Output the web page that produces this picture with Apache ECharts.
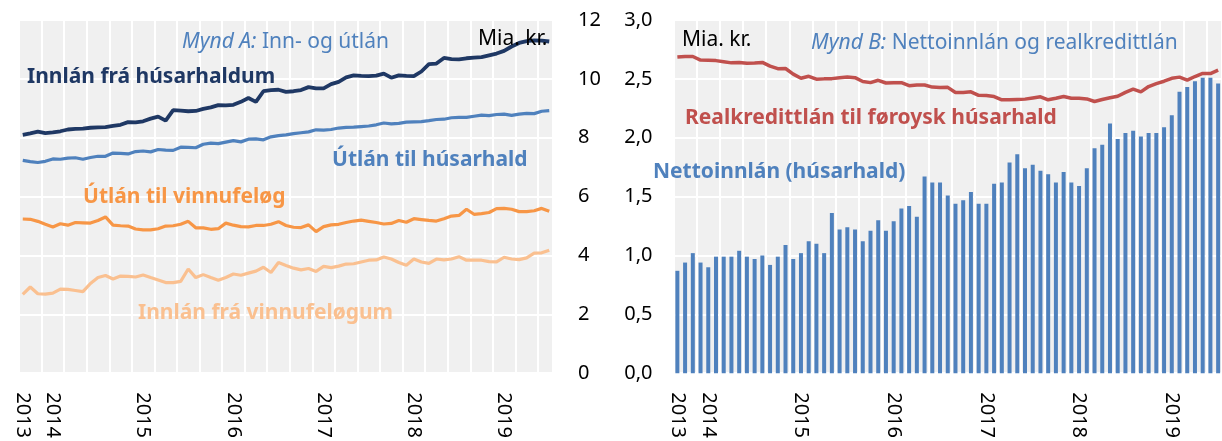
<!DOCTYPE html>
<html>
<head>
<meta charset="utf-8">
<title>Mynd A og Mynd B</title>
<script src="https://cdn.jsdelivr.net/npm/echarts@6/dist/echarts.min.js"></script>
<style>
  html, body { margin: 0; padding: 0; background: #fff; }
  #chart { width: 1222px; height: 441px; }
</style>
</head>
<body>
<div id="chart"></div>
<script>
// mánaðir: sep 2013 - jul 2019
const months = []
for (let y = 2013; y <= 2019; y++) {
  for (let m = 1; m <= 12; m++) {
    if ((y === 2013 && m < 9) || (y === 2019 && m > 7)) continue
    months.push(y + '-' + String(m).padStart(2, '0'))
  }
}

// Mynd A (mia. kr.)
const innlanHusarhald = [8.10, 8.15, 8.21, 8.16, 8.18, 8.22, 8.28, 8.30, 8.31, 8.34, 8.35, 8.36, 8.40, 8.44, 8.53, 8.52, 8.56, 8.65, 8.72, 8.58,
  8.94, 8.92, 8.90, 8.91, 8.98, 9.03, 9.11, 9.10, 9.12, 9.22, 9.35, 9.22, 9.58, 9.62, 9.63, 9.56, 9.58, 9.62, 9.72, 9.68,
  9.68, 9.82, 9.90, 10.05, 10.12, 10.10, 10.09, 10.11, 10.18, 10.04, 10.12, 10.10, 10.09, 10.25, 10.50, 10.52, 10.71, 10.67, 10.66, 10.70,
  10.72, 10.74, 10.80, 10.86, 10.95, 11.10, 11.22, 11.28, 11.31, 11.30, 11.27]
const utlanHusarhald = [7.23, 7.19, 7.16, 7.20, 7.28, 7.27, 7.31, 7.32, 7.27, 7.33, 7.37, 7.37, 7.48, 7.47, 7.45, 7.53, 7.55, 7.52, 7.60, 7.58,
  7.57, 7.68, 7.67, 7.66, 7.78, 7.82, 7.80, 7.85, 7.90, 7.86, 7.95, 7.96, 7.93, 8.03, 8.07, 8.10, 8.14, 8.17, 8.20, 8.27,
  8.26, 8.28, 8.33, 8.35, 8.36, 8.38, 8.40, 8.44, 8.50, 8.47, 8.49, 8.53, 8.54, 8.55, 8.58, 8.62, 8.63, 8.68, 8.69, 8.69,
  8.73, 8.77, 8.75, 8.79, 8.80, 8.76, 8.80, 8.83, 8.82, 8.90, 8.92]
const utlanVinnufelog = [5.24, 5.23, 5.16, 5.06, 4.97, 5.08, 5.03, 5.12, 5.11, 5.10, 5.19, 5.31, 5.03, 5.01, 5.00, 4.90, 4.87, 4.87, 4.91, 5.00,
  5.01, 5.06, 5.16, 4.94, 4.94, 4.89, 4.91, 5.10, 5.03, 4.98, 4.97, 5.02, 5.02, 5.06, 5.15, 5.02, 4.96, 4.95, 5.04, 4.81,
  4.98, 5.04, 5.06, 5.12, 5.17, 5.20, 5.16, 5.12, 5.07, 5.09, 5.19, 5.13, 5.25, 5.22, 5.19, 5.17, 5.25, 5.34, 5.36, 5.57,
  5.40, 5.42, 5.46, 5.59, 5.60, 5.57, 5.49, 5.49, 5.52, 5.60, 5.50]
const innlanVinnufelog = [2.68, 2.93, 2.70, 2.69, 2.72, 2.86, 2.85, 2.81, 2.77, 3.05, 3.25, 3.32, 3.20, 3.30, 3.29, 3.27, 3.34, 3.25, 3.17, 3.08,
  3.08, 3.12, 3.54, 3.25, 3.35, 3.25, 3.16, 3.25, 3.37, 3.33, 3.40, 3.47, 3.60, 3.42, 3.76, 3.66, 3.57, 3.51, 3.56, 3.46,
  3.63, 3.59, 3.64, 3.71, 3.72, 3.78, 3.84, 3.85, 3.95, 3.88, 3.76, 3.67, 3.88, 3.78, 3.73, 3.88, 3.85, 3.88, 3.96, 3.84,
  3.84, 3.84, 3.79, 3.78, 3.94, 3.88, 3.86, 3.92, 4.08, 4.09, 4.18]

// Mynd B (mia. kr.)
const nettoinnlan = [0.87, 0.94, 1.02, 0.94, 0.90, 0.99, 0.99, 0.99, 1.04, 0.99, 0.97, 1.00, 0.92, 0.99, 1.09, 0.97, 1.02, 1.12, 1.10, 1.02,
  1.36, 1.22, 1.24, 1.22, 1.12, 1.21, 1.30, 1.21, 1.29, 1.40, 1.42, 1.33, 1.67, 1.62, 1.62, 1.51, 1.44, 1.47, 1.54, 1.44,
  1.44, 1.61, 1.62, 1.79, 1.86, 1.74, 1.77, 1.72, 1.69, 1.62, 1.71, 1.62, 1.59, 1.74, 1.91, 1.94, 2.12, 1.99, 2.04, 2.06,
  2.01, 2.04, 2.04, 2.09, 2.19, 2.39, 2.43, 2.48, 2.51, 2.51, 2.46]
const realkredittlan = [2.685, 2.69, 2.69, 2.66, 2.658, 2.655, 2.646, 2.636, 2.64, 2.632, 2.635, 2.64, 2.608, 2.587, 2.588, 2.54, 2.505, 2.522, 2.497, 2.50,
  2.502, 2.51, 2.515, 2.51, 2.478, 2.468, 2.488, 2.465, 2.468, 2.468, 2.442, 2.448, 2.448, 2.43, 2.426, 2.428, 2.385, 2.385, 2.39, 2.36,
  2.358, 2.35, 2.322, 2.322, 2.325, 2.328, 2.338, 2.348, 2.322, 2.335, 2.35, 2.335, 2.335, 2.33, 2.308, 2.325, 2.34, 2.352, 2.385, 2.413,
  2.39, 2.435, 2.46, 2.48, 2.505, 2.515, 2.49, 2.52, 2.546, 2.545, 2.574]

const leftTicks = [0, 2, 4, 6, 8, 10, 12]
const rightTicks = [0, 0.5, 1, 1.5, 2, 2.5, 3]

const FONT = '"Noto Sans", "Open Sans", sans-serif'
const BLUE = '#4f81bd'
const PLOT_BG = '#f0f0f0'

function xAxisFor(grid) {
  return {
    type: 'category',
    gridIndex: grid,
    data: months,
    boundaryGap: true,
    axisLine: { show: false },
    axisTick: { show: false },
    axisLabel: {
      rotate: -90,
      margin: 19,
      fontSize: 20,
      fontFamily: FONT,
      color: '#000',
      interval: (i, v) => i === 0 || v.slice(5) === '01',
      formatter: v => v.slice(0, 4)
    },
    splitLine: {
      show: true,
      interval: 2,   // ein linja hvønn ársfjórðing
      lineStyle: { color: '#ffffff', width: 2 }
    }
  }
}

function txt(x, y, text, color, bold) {
  return {
    type: 'text', x: x, y: y, z: 100,
    style: {
      text: text, fill: color, verticalAlign: 'middle',
      font: (bold ? 'bold ' : '') + '21px ' + FONT
    }
  }
}

function titleTxt(x, y, lead, rest) {
  return {
    type: 'text', x: x, y: y, z: 100,
    style: {
      text: '{i|' + lead + '}{n| ' + rest + '}',
      verticalAlign: 'middle',
      rich: {
        i: { fontStyle: 'italic', fontSize: 21, fontFamily: FONT, fill: BLUE, color: BLUE },
        n: { fontSize: 21, fontFamily: FONT, fill: BLUE, color: BLUE }
      }
    }
  }
}

const chart = echarts.init(document.getElementById('chart'))
const option = {
  animation: false,
  backgroundColor: '#fff',
  grid: [
    { left: 19, top: 20, width: 534, height: 357, show: true, backgroundColor: PLOT_BG, borderWidth: 0 },
    { left: 673.5, top: 20, width: 552.4, height: 357, show: true, backgroundColor: PLOT_BG, borderWidth: 0 }
  ],
  xAxis: [xAxisFor(0), xAxisFor(1)],
  yAxis: [
    {
      type: 'value', gridIndex: 0, position: 'right',
      min: leftTicks[0], max: leftTicks[leftTicks.length - 1], interval: 2,
      axisLine: { show: false }, axisTick: { show: false },
      axisLabel: { margin: 25, fontSize: 20, fontFamily: FONT, color: '#000' },
      splitLine: { lineStyle: { color: '#fff', width: 2 } }
    },
    {
      type: 'value', gridIndex: 1, position: 'left',
      min: rightTicks[0], max: rightTicks[rightTicks.length - 1], interval: 0.5,
      axisLine: { show: false }, axisTick: { show: false },
      axisLabel: {
        margin: 21, fontSize: 20, fontFamily: FONT, color: '#000',
        formatter: v => v.toFixed(1).replace('.', ',')
      },
      splitLine: { lineStyle: { color: '#fff', width: 2 } }
    }
  ],
  series: [
    { name: 'Innlán frá vinnufeløgum', type: 'line', xAxisIndex: 0, yAxisIndex: 0, data: innlanVinnufelog,
      showSymbol: false, lineStyle: { color: '#fac090', width: 3.2 }, itemStyle: { color: '#fac090' } },
    { name: 'Útlán til vinnufeløg', type: 'line', xAxisIndex: 0, yAxisIndex: 0, data: utlanVinnufelog,
      showSymbol: false, lineStyle: { color: '#f79646', width: 3.2 }, itemStyle: { color: '#f79646' } },
    { name: 'Útlán til húsarhald', type: 'line', xAxisIndex: 0, yAxisIndex: 0, data: utlanHusarhald,
      showSymbol: false, lineStyle: { color: BLUE, width: 3.2 }, itemStyle: { color: BLUE } },
    { name: 'Innlán frá húsarhaldum', type: 'line', xAxisIndex: 0, yAxisIndex: 0, data: innlanHusarhald,
      showSymbol: false, lineStyle: { color: '#1f3864', width: 3.8 }, itemStyle: { color: '#1f3864' } },
    { name: 'Nettoinnlán (húsarhald)', type: 'bar', xAxisIndex: 1, yAxisIndex: 1, data: nettoinnlan,
      barWidth: 4, itemStyle: { color: BLUE } },
    { name: 'Realkredittlán til føroysk húsarhald', type: 'line', xAxisIndex: 1, yAxisIndex: 1, data: realkredittlan,
      showSymbol: false, lineStyle: { color: '#c0504d', width: 3.5 }, itemStyle: { color: '#c0504d' } }
  ],
  graphic: [
    titleTxt(182, 42, 'Mynd A:', 'Inn- og útlán'),
    txt(478, 39, 'Mia. kr.', '#000', false),
    txt(27, 77, 'Innlán frá húsarhaldum', '#1f3864', true),
    txt(332, 160, 'Útlán til húsarhald', BLUE, true),
    txt(83, 197, 'Útlán til vinnufeløg', '#f79646', true),
    txt(138, 313, 'Innlán frá vinnufeløgum', '#fac090', true),
    txt(682, 40, 'Mia. kr.', '#000', false),
    titleTxt(811, 43, 'Mynd B:', 'Nettoinnlán og realkredittlán'),
    txt(685, 118, 'Realkredittlán til føroysk húsarhald', '#c0504d', true),
    txt(653, 172, 'Nettoinnlán (húsarhald)', BLUE, true)
  ]
}
chart.setOption(option)
window.addEventListener('resize', function () {
  chart.resize()
})
</script>
</body>
</html>
